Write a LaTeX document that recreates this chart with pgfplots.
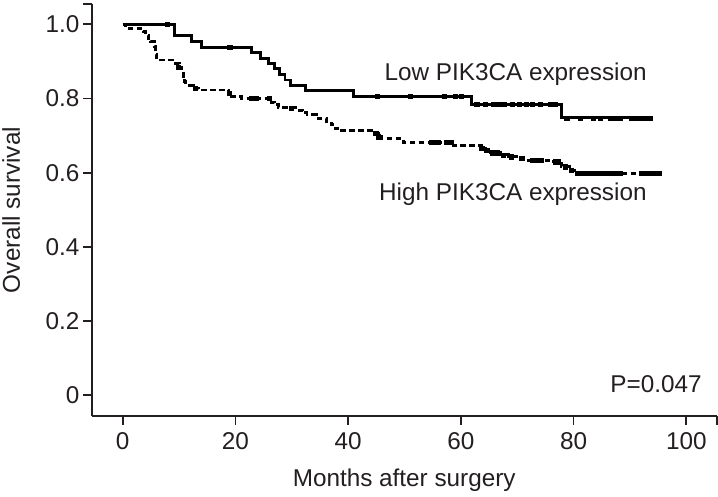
\documentclass[border=0pt]{standalone}
\usepackage{fontspec}
\setmainfont{Liberation Sans}
\usepackage{pgfplots}
\pgfplotsset{compat=1.18}
\definecolor{txt}{RGB}{35,31,32}
\newcommand{\fs}{\fontsize{24.3bp}{29bp}\selectfont}
\begin{document}
\begin{tikzpicture}
\path[use as bounding box] (-91.7bp,-81bp) rectangle (626.3bp,416bp);
\begin{axis}[
  at={(0,0)}, anchor=south west,
  scale only axis, width=625bp, height=412bp,
  xmin=-5.5, xmax=105.4, ymin=-0.056, ymax=1.055,
  axis x line*=bottom, axis y line*=left,
  axis line style={txt, line width=1.8bp, -},
  tick align=outside, major tick length=8.7bp,
  tick style={txt, line width=1.8bp},
  xtick={0,20,40,60,80,100}, ytick={0,0.2,0.4,0.6,0.8,1.0},
  xticklabels={0,20,40,60,80,100},
  yticklabels={0,0.2,0.4,0.6,0.8,1.0},
  extra x ticks={105.4}, extra x tick labels={},
  extra y ticks={1.055}, extra y tick labels={},
  ticklabel style={font=\fs, text=txt},
  xticklabel style={yshift=-4bp},
  xlabel={Months after surgery}, ylabel={Overall survival},
  every axis x label/.style={at={(axis description cs:0.5,-0.1716)}, anchor=base, font=\fs, text=txt},
  every axis y label/.style={at={(axis description cs:-0.129,0.5)}, anchor=center, rotate=90, font=\fs, text=txt},
  clip=false,
]
% Low PIK3CA expression (solid)
\addplot[const plot, black, line width=2.9bp] coordinates {
(0,1.0) (9.2,0.970) (12.2,0.955) (14.0,0.938) (22.9,0.924) (24.5,0.909)
(25.8,0.894) (27.0,0.880) (27.8,0.865) (28.8,0.850) (29.7,0.836) (32.4,0.821)
(40.9,0.806) (61.9,0.785) (77.9,0.748) (93.6,0.748)};
\addplot[only marks, mark=square*, mark size=2.1bp, black] coordinates {
(7.9,1.0) (19.0,0.938) (45.1,0.806) (51.0,0.806) (57.0,0.806) (59.0,0.806) (60.0,0.806)
(62.8,0.785) (64.3,0.785) (65.8,0.785) (66.7,0.785) (67.6,0.785) (69.1,0.785) (70.4,0.785)
(71.6,0.785) (72.6,0.785) (74.1,0.785) (75.8,0.785) (76.7,0.785)
(78.8,0.748) (81.2,0.748) (83.5,0.748) (84.7,0.748) (86.5,0.748) (87.4,0.748) (88.3,0.748)
(90.3,0.748) (91.2,0.748) (92.1,0.748) (93.0,0.748) (93.6,0.748)};
% High PIK3CA expression (dashed)
\addplot[const plot, black, line width=2.9bp, dash pattern=on 5.5bp off 3.5bp] coordinates {
(0,1.0) (0.5,0.990) (3.6,0.980) (4.0,0.970) (4.5,0.962) (5.0,0.953) (5.7,0.940) (5.9,0.920)
(6.0,0.904) (9.3,0.895) (10.0,0.885) (10.5,0.875) (10.8,0.860) (11.0,0.845) (11.1,0.836)
(12.5,0.828) (13.4,0.823) (18.7,0.815) (19.3,0.805) (21.1,0.800) (26.4,0.790) (27.0,0.783)
(27.6,0.775) (31.1,0.769) (32.0,0.762) (32.7,0.756) (34.4,0.747) (36.2,0.738) (37.0,0.729)
(37.7,0.720) (38.6,0.713) (44.8,0.706) (45.4,0.697) (46.0,0.693) (49.8,0.682) (58.7,0.673)
(63.7,0.666) (64.3,0.661) (65.2,0.654) (67.0,0.648) (68.5,0.643) (70.3,0.639) (72.0,0.634)
(76.0,0.630) (77.8,0.616) (79.3,0.607) (80.2,0.598) (95.4,0.598)};
\addplot[only marks, mark=square*, mark size=2.1bp, black] coordinates {
(9.8,0.885) (12.8,0.828) (18.9,0.815) (22.9,0.800) (23.6,0.800) (26.0,0.800) (29.9,0.775)
(44.9,0.706) (45.3,0.697) (54.8,0.682) (55.4,0.682) (56.0,0.682) (57.5,0.682) (58.3,0.682)
(63.7,0.666) (64.6,0.661) (65.6,0.654) (66.4,0.654) (67.5,0.648) (69.0,0.643) (70.8,0.639)
(72.6,0.634) (73.4,0.634) (74.2,0.634) (76.8,0.630) (77.3,0.630) (78.5,0.616) (79.6,0.607)
(80.6,0.598) (81.2,0.598) (81.8,0.598) (82.4,0.598) (83.0,0.598) (83.6,0.598) (84.2,0.598)
(84.8,0.598) (85.4,0.598) (86.0,0.598) (86.6,0.598) (87.4,0.598) (88.2,0.598) (92.0,0.598)
(92.8,0.598) (93.6,0.598) (94.4,0.598) (95.2,0.598)};
\node[anchor=base east, inner sep=0pt, font=\fs, text=txt] at (axis cs:93.0,0.850) {Low PIK3CA expression};
\node[anchor=base east, inner sep=0pt, font=\fs, text=txt] at (axis cs:93.0,0.526) {High PIK3CA expression};
\node[anchor=base east, inner sep=0pt, font=\fs, text=txt] at (axis cs:102.75,0.007) {P=0.047};
\end{axis}
\end{tikzpicture}
\end{document}
